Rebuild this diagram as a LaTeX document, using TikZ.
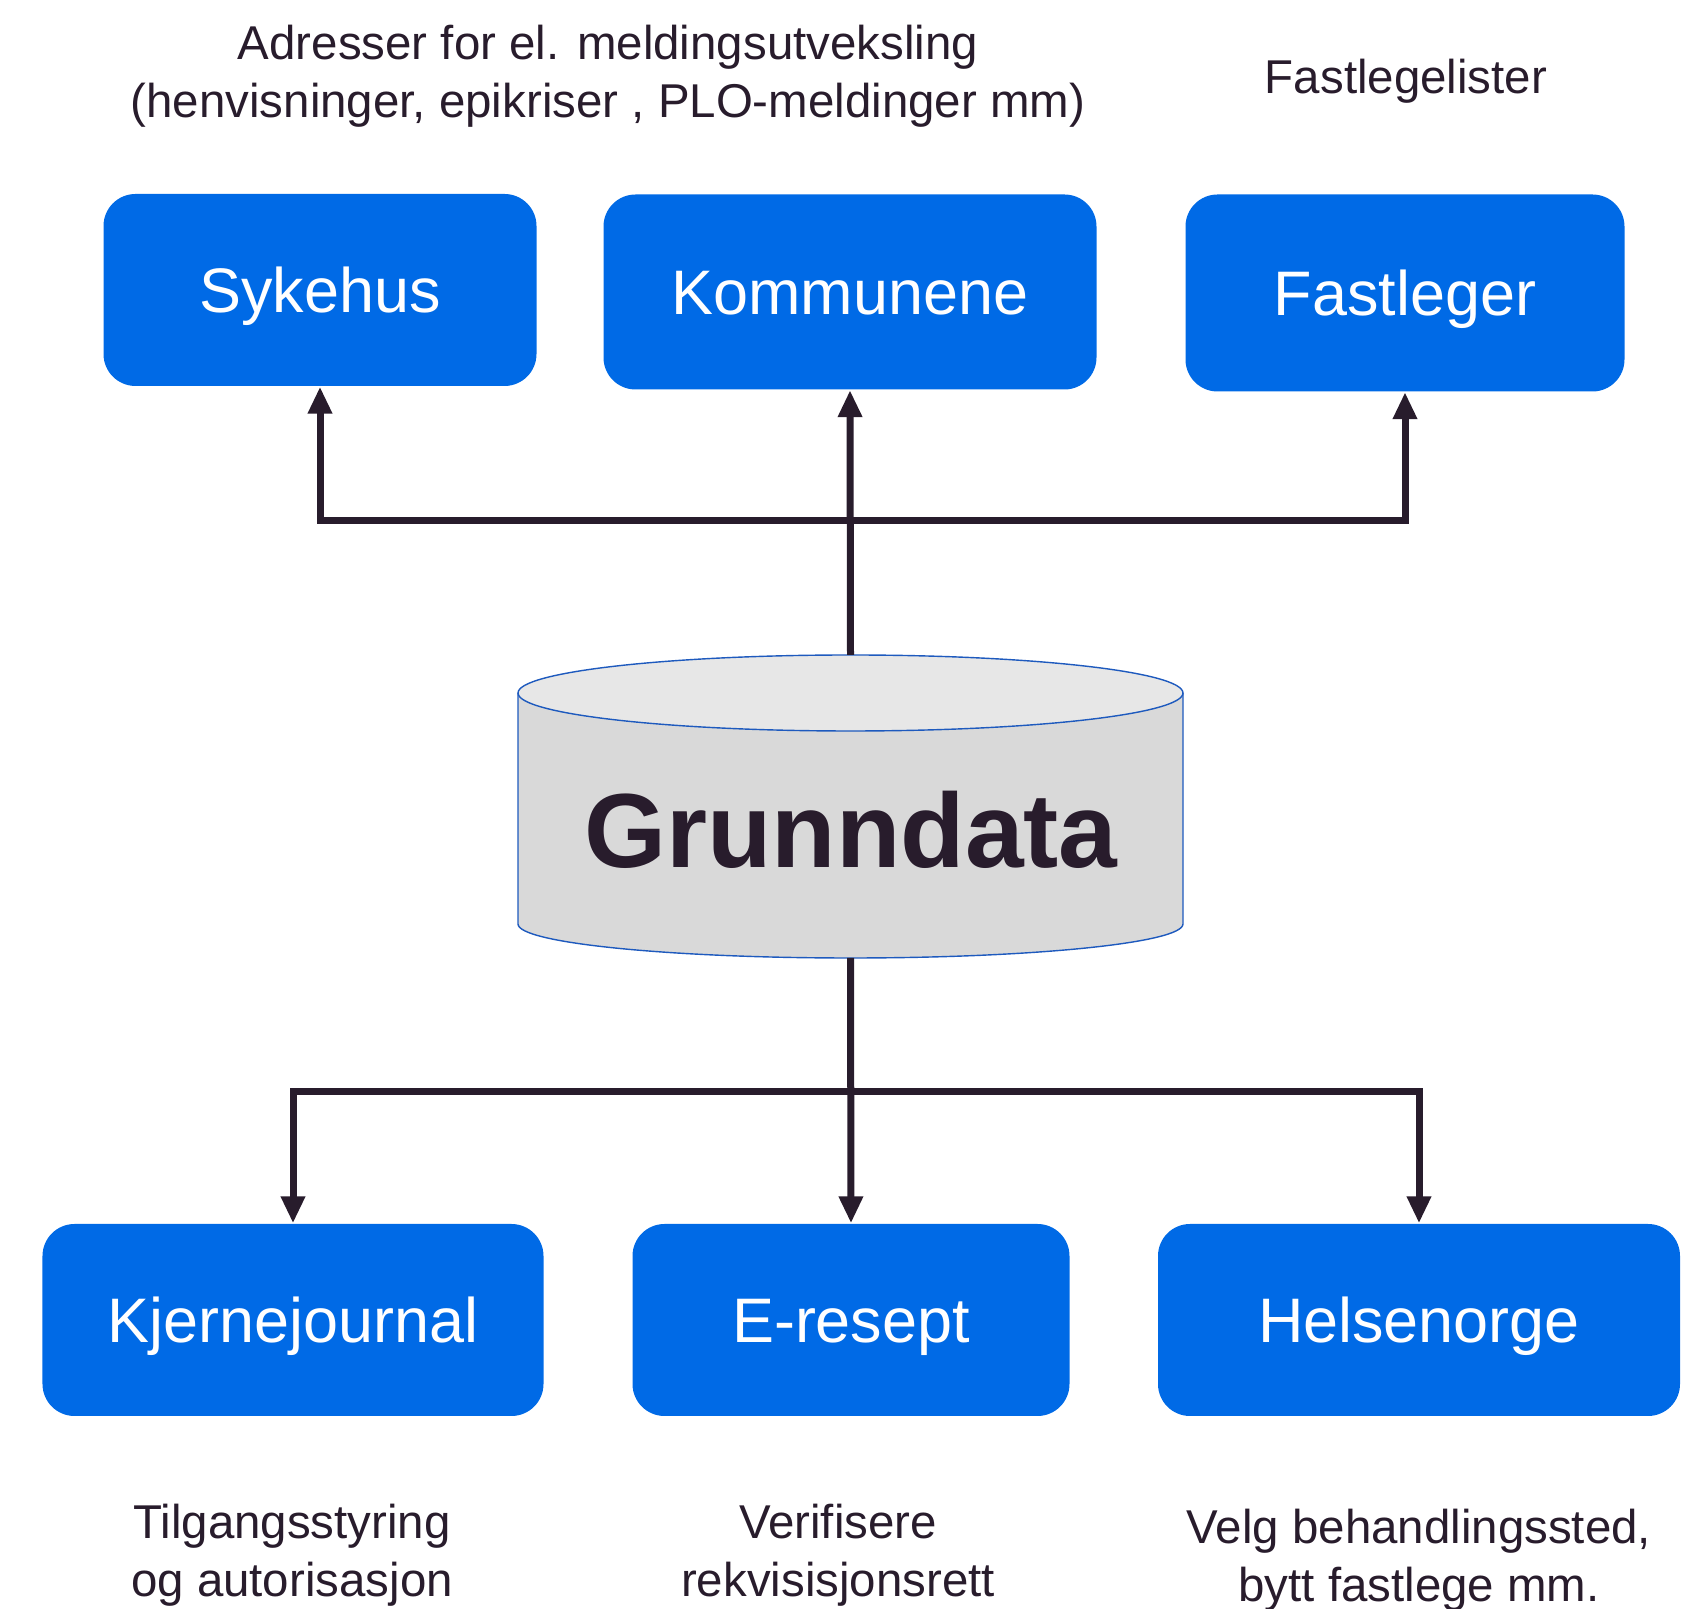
\documentclass[tikz,border=0pt]{standalone}
\usepackage{fontspec}
\setmainfont{Liberation Sans}
\usetikzlibrary{calc}
\usetikzlibrary{arrows.meta}
\definecolor{boxblue}{RGB}{0,106,230}
\definecolor{darkline}{RGB}{40,28,44}
\definecolor{dbtopfill}{RGB}{231,231,231}
\definecolor{dbbodyfill}{RGB}{217,217,217}
\definecolor{dbedge}{RGB}{30,90,190}

\begin{document}
\begin{tikzpicture}[
  box/.style={draw=none, fill=boxblue, rounded corners=0.32cm, text=white,
    inner sep=0pt, minimum height=1.92cm, text height=0.45cm, text depth=0cm,
    font=\fontsize{17.9pt}{21pt}\selectfont},
  note/.style={align=center, text=darkline, inner sep=0pt,
    font=\fontsize{13.5pt}{16.5pt}\selectfont},
  link/.style={draw=darkline, line width=0.07cm, line join=miter,
    -{Triangle[width=0.23cm,length=0.27cm]}}
]
\useasboundingbox (0,0) rectangle (16.85,-16.09);

% upper boxes
\node [box, minimum width=4.33cm] (syk) at (3.20,-2.90) {Sykehus};
\node [box, minimum width=4.93cm, minimum height=1.95cm] (kom) at (8.50,-2.92) {Kommunene};
\node [box, minimum width=4.39cm, minimum height=1.97cm] (fast) at (14.05,-2.93) {Fastleger};

% lower boxes
\node [box, minimum width=5.01cm] (kj) at (2.93,-13.20) {Kjernejournal};
\node [box, minimum width=4.37cm] (eres) at (8.51,-13.20) {E-resept};
\node [box, minimum width=5.22cm] (helse) at (14.19,-13.20) {Helsenorge};

% database
\fill[dbbodyfill] (5.18,-6.93) -- (5.18,-9.24)
  arc[start angle=180, end angle=360, x radius=3.325, y radius=0.34]
  -- (11.83,-6.93) -- cycle;
\draw[dbedge, line width=0.4pt] (5.18,-6.93) -- (5.18,-9.24)
  arc[start angle=180, end angle=360, x radius=3.325, y radius=0.34]
  -- (11.83,-6.93);
\draw[dbedge, fill=dbtopfill, line width=0.4pt] (8.505,-6.93) ellipse [x radius=3.325, y radius=0.38];
\node [text=darkline, font=\fontsize{30pt}{36pt}\selectfont\bfseries] (db) at (8.51,-8.30) {Grunndata};
\coordinate (dbtop) at (8.505,-6.55);
\coordinate (dbbot) at (8.505,-9.58);
\coordinate (upbus) at (8.505,-5.21);
\coordinate (lowbus) at (8.505,-10.92);

% connectors
\draw[link] (dbtop) -- (kom.south);
\draw[link] (upbus) -| (syk.south);
\draw[link] (upbus) -| (fast.south);
\draw[link] (dbbot) -- (eres.north);
\draw[link] (lowbus) -| (kj.north);
\draw[link] (lowbus) -| (helse.north);

% notes
\node [note] (adrtxt) at (6.08,-0.76) {Adresser for el. meldingsutveksling\\(henvisninger, epikriser , PLO-meldinger mm)};
\node [note] (listtxt) at (14.06,-0.81) {Fastlegelister};
\node [note] (tilgtxt) at (2.92,-15.55) {Tilgangsstyring\\og autorisasjon};
\node [note] (verftxt) at (8.38,-15.55) {Verifisere\\rekvisisjonsrett};
\node [note] (velgtxt) at (14.19,-15.60) {Velg behandlingssted,\\bytt fastlege mm.};
\end{tikzpicture}
\end{document}
